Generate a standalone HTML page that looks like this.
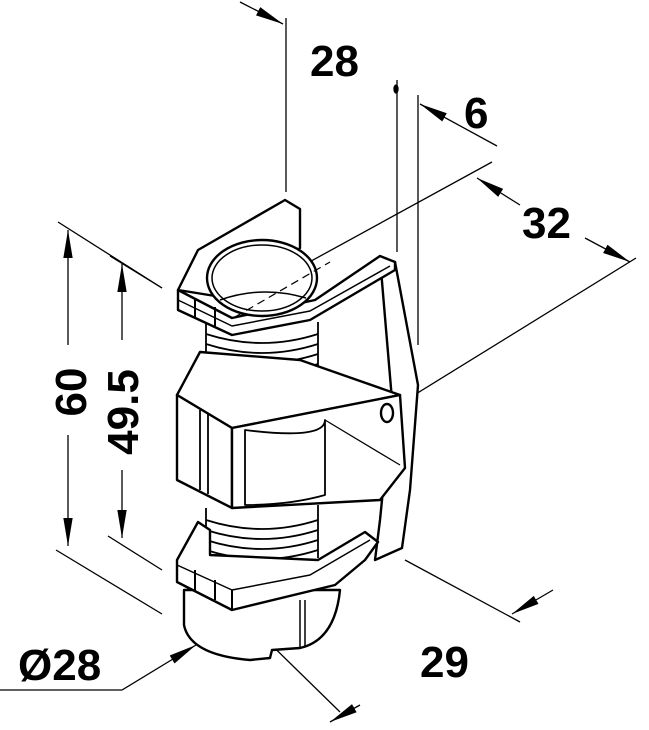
<!DOCTYPE html>
<html><head><meta charset="utf-8"><style>
html,body{margin:0;padding:0;background:#fff;}
svg{display:block}
text{font-family:"Liberation Sans",Arial,sans-serif;font-weight:bold;font-size:44px;fill:#000}
</style></head><body>
<svg width="649" height="730" viewBox="0 0 649 730" xmlns="http://www.w3.org/2000/svg">
<defs>
<marker id="b" viewBox="0 0 24 10" refX="24" refY="5" markerWidth="28" markerHeight="12" orient="auto-start-reverse" markerUnits="userSpaceOnUse"><path d="M0,1 L24,5 L0,9 z" fill="#000"/></marker>
</defs>
<g stroke="#000" stroke-width="1.3" fill="none">
<line x1="286" y1="18" x2="286" y2="192"/>
<line x1="240" y1="2" x2="283" y2="24" marker-end="url(#b)"/>
<line x1="397" y1="80" x2="397" y2="252"/>
<ellipse cx="396" cy="89" rx="2" ry="4" fill="#000"/>
<line x1="418" y1="95" x2="418" y2="345"/>
<line x1="497" y1="146" x2="420" y2="104" marker-end="url(#b)"/>
<line x1="240" y1="300" x2="492" y2="162"/>
<line x1="390" y1="410" x2="636" y2="258"/>
<line x1="520" y1="205" x2="477" y2="178" marker-end="url(#b)"/>
<line x1="585" y1="238" x2="630" y2="262" marker-end="url(#b)"/>
<line x1="58" y1="222" x2="162" y2="288"/>
<line x1="56" y1="550" x2="162" y2="614"/>
<line x1="68" y1="345" x2="68" y2="230" marker-end="url(#b)"/>
<line x1="68" y1="435" x2="68" y2="546" marker-end="url(#b)"/>
<line x1="110" y1="256" x2="162" y2="288"/>
<line x1="108" y1="536" x2="162" y2="570"/>
<line x1="122" y1="340" x2="122" y2="264" marker-end="url(#b)"/>
<line x1="122" y1="470" x2="122" y2="538" marker-end="url(#b)"/>
<polyline points="0,690 122,690 196,645" marker-end="url(#b)"/>
<line x1="405" y1="560" x2="520" y2="622"/>
<line x1="553" y1="590" x2="512" y2="614" marker-end="url(#b)"/>
<line x1="248" y1="622" x2="340" y2="712"/>
<line x1="360" y1="705" x2="330" y2="722" marker-end="url(#b)"/>
</g>
<g stroke="#000" stroke-width="2.4" fill="#fff" stroke-linejoin="round">
<path d="M184,590 L184,625 Q190,655 250,660 L270,658 L272,650 L300,648 Q335,640 340,590 Z"/>
<line x1="300" y1="600" x2="300" y2="648" stroke-width="1.5"/>
<line x1="305" y1="600" x2="305" y2="646" stroke-width="1.5"/>
<path d="M380,258 L395,262 L418,385 L410,490 L402,548 L375,560 L380,520 L392,400 Z"/>
<path d="M178,290 L198,250 L285,200 L300,209 L300,248 L240,300 Z"/>
<rect x="205" y="320" width="113" height="55" stroke="none"/>
<g fill="none" stroke-width="1.8">
<path d="M206,322 L206,372 M318,322 L318,372"/>
<path d="M206,334 Q262,352 318,334"/><path d="M206,344 Q262,362 318,344"/><path d="M206,354 Q262,372 318,354"/><path d="M206,364 Q262,382 318,364"/>
</g>
<path d="M178,290 L178,310 L232,335 L310,320 L395,270 L395,262 L380,256 L315,300 L232,318 Z"/>
<path d="M178,290 L178,300 L232,326 L310,311 L390,266" fill="none" stroke-width="1.5"/>
<line x1="195" y1="298" x2="195" y2="318" stroke-width="2"/>
<line x1="215" y1="307" x2="215" y2="328" stroke-width="2"/>
<ellipse cx="262" cy="278" rx="55" ry="38"/>
<ellipse cx="262" cy="278" rx="50" ry="33" fill="none" stroke-width="1.5"/>
<path d="M220,300 Q262,285 306,298" fill="none" stroke-width="1.5"/>
<line x1="235" y1="317" x2="330" y2="262" stroke-width="1.2" stroke-dasharray="8,5"/>
<path d="M177,395 L200,352 L300,360 L400,395 L232,428 Z"/>
<path d="M177,395 L177,480 L232,508 L232,428 Z"/>
<path d="M232,428 L400,395 L405,468 L380,500 L232,508 Z"/>
<path d="M245,430 Q325,440 325,420 L325,495 Q290,505 245,505 Z" fill="none" stroke-width="1.8"/>
<line x1="200" y1="410" x2="200" y2="490" stroke-width="1.8"/>
<line x1="208" y1="414" x2="208" y2="494" stroke-width="1.8"/>
<line x1="325" y1="420" x2="400" y2="465" stroke-width="1.3"/>
<ellipse cx="387" cy="413" rx="6" ry="9"/>
<rect x="205" y="510" width="113" height="50" stroke="none"/>
<g fill="none" stroke-width="1.8">
<path d="M206,508 L206,560 M318,505 L318,558"/>
<path d="M206,520 Q262,538 318,520"/><path d="M206,530 Q262,548 318,530"/><path d="M206,540 Q262,558 318,540"/><path d="M206,550 Q262,568 318,550"/>
</g>
<path d="M177,560 L198,522 L210,530 L210,555 L318,560 L365,532 L378,542 L365,560 L335,585 L232,610 L177,582 Z"/>
<path d="M177,565 L232,590 L310,575 L370,540" fill="none" stroke-width="1.5"/>
<line x1="195" y1="570" x2="195" y2="592" stroke-width="2"/>
<line x1="215" y1="580" x2="215" y2="600" stroke-width="2"/>
<line x1="232" y1="590" x2="232" y2="610" stroke-width="2"/>
</g>
<text x="310" y="76">28</text>
<text x="464" y="128">6</text>
<text x="522" y="238">32</text>
<text x="18" y="680">Ø28</text>
<text x="420" y="677">29</text>
<text transform="translate(86,392) rotate(-90)" text-anchor="middle">60</text>
<text transform="translate(138,412) rotate(-90)" text-anchor="middle">49.5</text>
</svg>
</body></html>
